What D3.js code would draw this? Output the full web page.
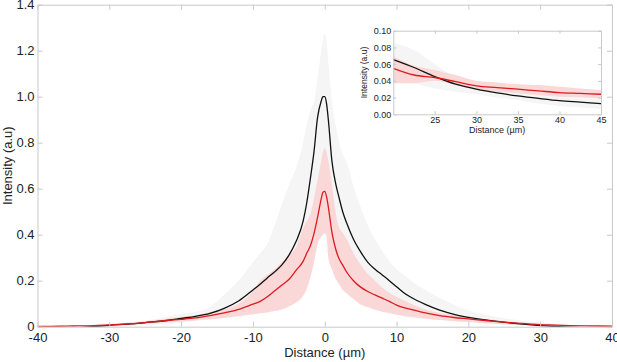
<!DOCTYPE html>
<html lang="en">
<head>
<meta charset="UTF-8">
<title>Intensity profile</title>
<script src="https://cdn.jsdelivr.net/npm/d3@7"></script>
<style>
  body { margin: 0; background: #fff; }
  svg { display: block; font-family: "Liberation Sans", Arial, sans-serif; }
  .tick text { fill: #222; }
</style>
</head>
<body>
<script>
// Main plot data: distance (µm) and intensity (a.u.)
const distance = [-40,-37,-35,-32,-30, -27,-25,-22,-20,-18, -16,-14,-12,-10,-9, -8,-7,-6,-5,-4,
  -3,-2.5,-2,-1.5,-1, -0.5,-0.25,0,0.25,0.5, 1,1.5,2,2.5,3, 4,5,6,7,8,
  9,10,11,12,14, 16,18,20,22,24, 26,28,30,32,34, 36,38,40];

const blackMean = [null,null,-0.006,0.001,0.006, 0.012,0.018,0.027,0.036,0.045, 0.058,0.08,0.112,0.16,0.185, 0.212,0.238,0.268,0.31,0.37,
  0.46,0.54,0.645,0.76,0.91, 0.98,1.0,1.0,0.97,0.9, 0.72,0.625,0.56,0.5,0.455, 0.38,0.325,0.28,0.25,0.225,
  0.2,0.174,0.148,0.128,0.097, 0.072,0.054,0.041,0.031,0.023, 0.016,0.01,0.005,0.001,-0.002, -0.005,null,null];
const blackUpper = [null,null,0.0,0.008,0.013, 0.02,0.027,0.043,0.055,0.065, 0.085,0.14,0.2,0.28,0.32, 0.36,0.44,0.53,0.615,0.69,
  0.8,0.88,0.94,0.98,1.08, 1.2,1.25,1.276,1.24,1.15, 0.98,0.88,0.8,0.75,0.72, 0.61,0.52,0.44,0.38,0.33,
  0.285,0.25,0.225,0.2,0.16, 0.125,0.095,0.07,0.055,0.042, 0.032,0.024,0.017,0.011,0.007, 0.003,null,null];
const blackLower = [null,null,-0.012,-0.006,-0.001, 0.004,0.009,0.011,0.017,0.025, 0.031,0.038,0.045,0.054,0.06, 0.07,0.068,0.075,0.088,0.105,
  0.135,0.2,0.35,0.54,0.6, 0.7,0.72,0.724,0.7,0.65, 0.46,0.37,0.32,0.25,0.19, 0.15,0.13,0.12,0.12,0.12,
  0.115,0.098,0.071,0.056,0.035, 0.029,0.024,0.02,0.016,0.012, 0.009,0.007,0.005,0.003,-0.011, -0.013,null,null];

const redMean = [0.001,0.002,0.003,0.005,0.008, 0.013,0.018,0.027,0.032,0.038, 0.048,0.06,0.075,0.098,0.11, 0.13,0.155,0.18,0.205,0.245,
  0.285,0.32,0.352,0.405,0.475, 0.555,0.585,0.588,0.565,0.52, 0.41,0.34,0.295,0.268,0.24, 0.2,0.172,0.153,0.138,0.124,
  0.11,0.094,0.083,0.075,0.06, 0.048,0.04,0.034,0.028,0.022, 0.017,0.013,0.009,0.007,0.005, 0.004,0.003,0.002];
const redUpper = [0.003,0.004,0.006,0.009,0.012, 0.018,0.024,0.035,0.043,0.05, 0.062,0.075,0.1,0.155,0.2, 0.225,0.25,0.28,0.31,0.345,
  0.43,0.46,0.49,0.56,0.64, 0.72,0.76,0.776,0.76,0.72, 0.62,0.5,0.43,0.41,0.385, 0.32,0.27,0.23,0.2,0.17,
  0.148,0.13,0.115,0.1,0.075, 0.06,0.05,0.043,0.035,0.028, 0.022,0.017,0.013,0.01,0.008, 0.006,0.005,0.004];
const redLower = [-0.001,0.0,0.001,0.003,0.005, 0.009,0.013,0.019,0.023,0.027, 0.032,0.038,0.045,0.054,0.058, 0.062,0.068,0.075,0.088,0.105,
  0.135,0.165,0.215,0.28,0.36, 0.39,0.4,0.406,0.39,0.3, 0.25,0.21,0.185,0.16,0.147, 0.12,0.097,0.085,0.074,0.065,
  0.058,0.052,0.047,0.042,0.035, 0.029,0.024,0.02,0.016,0.012, 0.009,0.007,0.005,0.003,0.002, 0.001,0.0,0.0];

const xTicks = [-40,-30,-20,-10,0,10,20,30,40];
const yTicks = [0,0.2,0.4,0.6,0.8,1.0,1.2,1.4];

// Inset data (tail, 20-45 µm)
const insetDistance = [20,22.5,25,27.5,30,32.5,35,37.5,40,42.5,45];
const insetBlackMean = [0.0655,0.056,0.045,0.036,0.030,0.0255,0.022,0.019,0.0163,0.0145,0.0127];
const insetBlackUpper = [0.085,0.077,0.06,0.044,0.035,0.031,0.027,0.024,0.021,0.019,0.018];
const insetBlackLower = [0.045,0.037,0.031,0.027,0.024,0.02,0.017,0.013,0.010,0.008,0.006];
const insetRedMean = [0.055,0.047,0.044,0.039,0.034,0.032,0.030,0.028,0.026,0.025,0.024];
const insetRedUpper = [0.069,0.058,0.053,0.047,0.040,0.038,0.036,0.035,0.033,0.031,0.029];
const insetRedLower = [0.037,0.037,0.040,0.035,0.029,0.027,0.025,0.023,0.021,0.020,0.019];
const insetXTicks = [25,30,35,40,45];
const insetYTicks = [0,0.02,0.04,0.06,0.08,0.10];

const w = 617, h = 362;
const grayFill = "#f5f5f5", pinkFill = "#fbd8d8", redLine = "#dc1a1f", blackLine = "#111", frame = "#c9c9c9";

const svg = d3.select("body").append("svg").attr("width", w).attr("height", h);

// draws one framed panel with bands and lines
function panel(g, opts) {
  const x = d3.scaleLinear().domain(opts.xDomain).range([opts.left, opts.right]);
  const y = d3.scaleLinear().domain(opts.yDomain).range([opts.bottom, opts.top]);
  const fs = opts.fontSize, tl = opts.tickLen;

  if (opts.background) {
    g.append("rect").attr("x", opts.left).attr("y", opts.top)
      .attr("width", opts.right - opts.left).attr("height", opts.bottom - opts.top)
      .attr("fill", "#fff");
  }

  g.append("clipPath").attr("id", opts.id + "-clip").append("rect")
    .attr("x", opts.left).attr("y", opts.top)
    .attr("width", opts.right - opts.left).attr("height", opts.bottom - opts.top);
  const plot = g.append("g").attr("clip-path", `url(#${opts.id}-clip)`);

  const rows = opts.xs.map((d, i) => ({
    x: d, bm: opts.bMean[i], bu: opts.bUp[i], bl: opts.bLow[i],
    rm: opts.rMean[i], ru: opts.rUp[i], rl: opts.rLow[i]
  }));

  const area = (lo, hi) => d3.area().curve(d3.curveMonotoneX)
    .defined(d => d[lo] != null && d[hi] != null)
    .x(d => x(d.x)).y0(d => y(d[lo])).y1(d => y(d[hi]));
  const line = key => d3.line().curve(d3.curveMonotoneX)
    .defined(d => d[key] != null)
    .x(d => x(d.x)).y(d => y(d[key]));

  plot.append("path").datum(rows).attr("d", area("bl", "bu")).attr("fill", grayFill);
  plot.append("path").datum(rows).attr("d", area("rl", "ru")).attr("fill", pinkFill);
  plot.append("path").datum(rows).attr("d", line("bm"))
    .attr("fill", "none").attr("stroke", blackLine).attr("stroke-width", opts.lw);
  plot.append("path").datum(rows).attr("d", line("rm"))
    .attr("fill", "none").attr("stroke", redLine).attr("stroke-width", opts.lw);

  // axes with inward ticks on all four sides
  const styleAxis = sel => {
    sel.select(".domain").attr("stroke", frame);
    sel.selectAll(".tick line").attr("stroke", frame);
    sel.selectAll(".tick text").attr("font-size", fs);
  };
  g.append("g").attr("transform", `translate(0,${opts.bottom})`)
    .call(d3.axisBottom(x).tickValues(opts.xTicks).tickFormat(opts.xFmt)
      .tickSizeInner(-tl).tickSizeOuter(0).tickPadding(tl + opts.xPad))
    .call(styleAxis);
  g.append("g").attr("transform", `translate(0,${opts.top})`)
    .call(d3.axisTop(x).tickValues(opts.xTicks).tickFormat("")
      .tickSizeInner(-tl).tickSizeOuter(0))
    .call(styleAxis);
  g.append("g").attr("transform", `translate(${opts.left},0)`)
    .call(d3.axisLeft(y).tickValues(opts.yTicks).tickFormat(opts.yFmt)
      .tickSizeInner(-tl).tickSizeOuter(0).tickPadding(tl + opts.yPad))
    .call(styleAxis);
  g.append("g").attr("transform", `translate(${opts.right},0)`)
    .call(d3.axisRight(y).tickValues(opts.yTicks).tickFormat("")
      .tickSizeInner(-tl).tickSizeOuter(0))
    .call(styleAxis);

  // axis titles
  g.append("text").attr("x", (opts.left + opts.right) / 2).attr("y", opts.xTitleY)
    .attr("text-anchor", "middle").attr("font-size", opts.titleSize).attr("fill", "#222")
    .text("Distance (µm)");
  g.append("text")
    .attr("transform", `translate(${opts.yTitleX},${(opts.top + opts.bottom) / 2}) rotate(-90)`)
    .attr("text-anchor", "middle").attr("font-size", opts.yTitleSize || opts.titleSize).attr("fill", "#222")
    .text("Intensity (a.u)");
}

// Main panel
panel(svg.append("g"), {
  id: "main", left: 37.5, right: 612, top: 4.7, bottom: 326.7,
  xDomain: [-40, 40], yDomain: [0, 1.4],
  xs: distance, bMean: blackMean, bUp: blackUpper, bLow: blackLower,
  rMean: redMean, rUp: redUpper, rLow: redLower,
  xTicks: xTicks, yTicks: yTicks,
  xFmt: d => String(d), yFmt: d => d === 0 ? "0" : d3.format(".1f")(d),
  fontSize: 13, titleSize: 13, tickLen: 5, xPad: 1, yPad: -2, lw: 1.3,
  xTitleY: 357, yTitleX: 11.5
});

// Inset panel
panel(svg.append("g"), {
  id: "inset", background: true, left: 393.3, right: 601, top: 30.7, bottom: 114.3,
  xDomain: [20, 45], yDomain: [0, 0.1],
  xs: insetDistance, bMean: insetBlackMean, bUp: insetBlackUpper, bLow: insetBlackLower,
  rMean: insetRedMean, rUp: insetRedUpper, rLow: insetRedLower,
  xTicks: insetXTicks, yTicks: insetYTicks,
  xFmt: d => String(d), yFmt: d3.format(".2f"),
  fontSize: 9, titleSize: 9, yTitleSize: 8.5, tickLen: 3, xPad: -1, yPad: -1, lw: 1.3,
  xTitleY: 133, yTitleX: 366.5
});
</script>
</body>
</html>
